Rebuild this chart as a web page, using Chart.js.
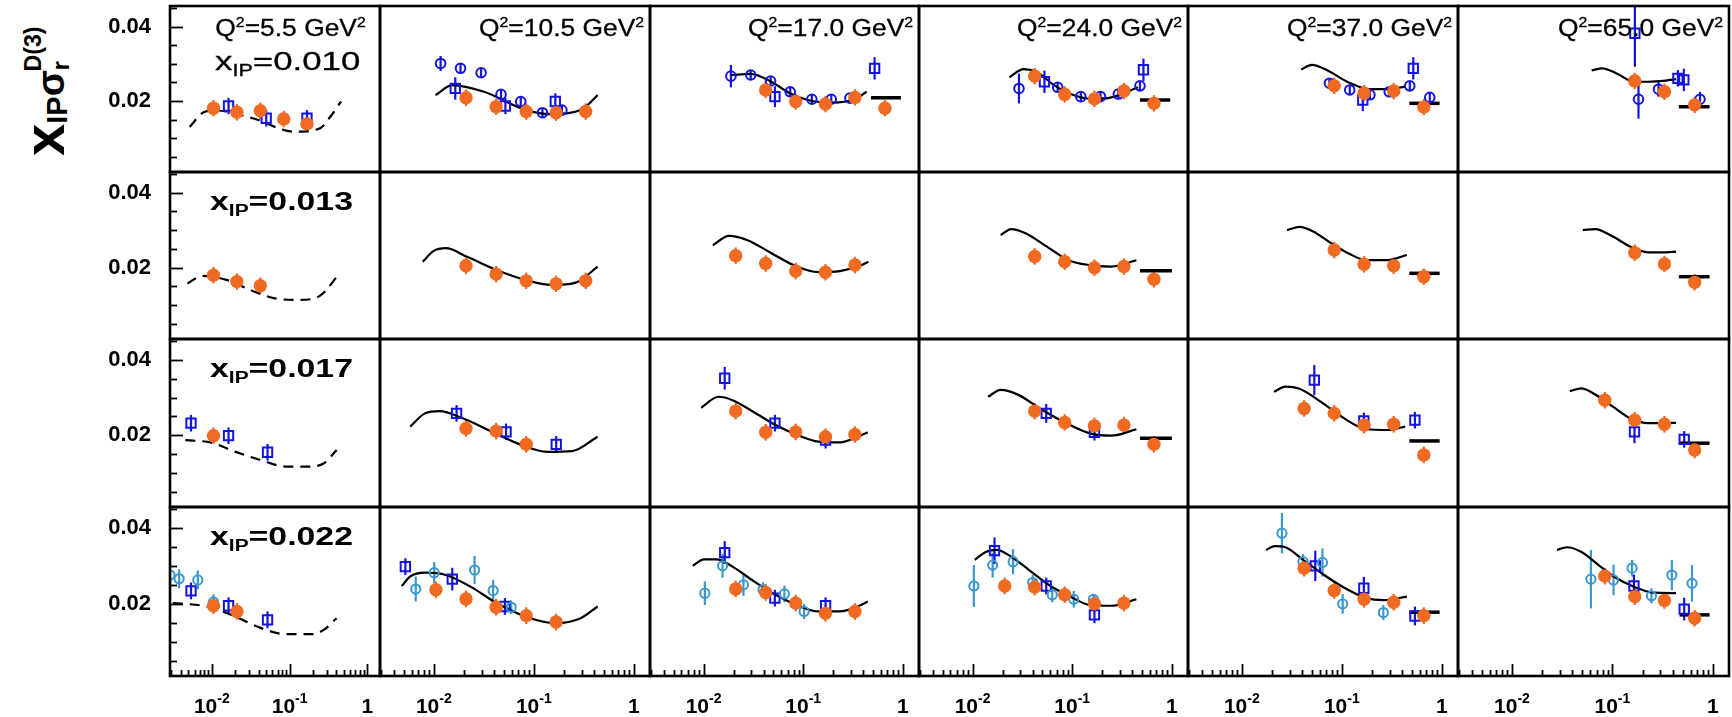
<!DOCTYPE html>
<html lang="en">
<head>
<meta charset="UTF-8">
<title>Reduced diffractive cross section</title>
<script src="https://cdn.jsdelivr.net/npm/chart.js"></script>
<style>
  body { margin: 0; background: #fff; }
  #page { position: relative; width: 1732px; height: 717px; overflow: hidden; font-family: 'Liberation Sans', Arial, sans-serif; color: #000; }
  #page canvas { position: absolute; }
  .lbl { position: absolute; white-space: nowrap; line-height: 1; }
  .q2 { font-size: 24px; transform: scaleX(1.1); transform-origin: right top; -webkit-text-stroke: 0.3px #000; }
  .xp { font-size: 26px; font-weight: bold; transform: scaleX(1.3); transform-origin: left top; }
  .xp.first { font-size: 26px; font-weight: normal; transform: scaleX(1.34); -webkit-text-stroke: 0.3px #000; }
  .lbl sup { font-size: 60%; position: relative; top: -0.6em; vertical-align: baseline; }
  .lbl sub { font-size: 62%; position: relative; top: 0.35em; vertical-align: baseline; }
  #ytitle { position: absolute; left: 15px; top: 156px; font-size: 58px; font-weight: bold; line-height: 1; white-space: nowrap; transform-origin: 0 0; transform: rotate(-90deg); }
  #ytitle .ip { font-size: 50%; position: relative; top: 0.12em; }
  #ytitle .sg { font-size: 66%; }
  #ytitle .r { font-size: 40%; position: relative; top: 0.2em; }
  #ytitle .d3 { font-size: 40%; position: relative; top: -1.0em; margin-left: -0.45em; }
</style>
</head>
<body>
<div id="page">
  <div id="ytitle">x<span class="ip">IP</span><span class="sg">σ</span><span class="r">r</span><span class="d3">D(3)</span></div>
</div>
<script>
// panel labels and axis ticks
const q2Values = ['5.5', '10.5', '17.0', '24.0', '37.0', '65.0'];
const xpomValues = ['0.010', '0.013', '0.017', '0.022'];
const xTickValues = [0.01, 0.1, 1];
const yTickValues = [0.02, 0.04];

// points per panel [row = x_IP][col = Q2] : [beta, x_IP*sigma, error]
const orangeDots = [
  [
    [[0.0105,0.0181],[0.021,0.0170],[0.042,0.0174],[0.084,0.0152],[0.167,0.0139]],
    [[0.021,0.0209],[0.042,0.0185],[0.084,0.0172],[0.167,0.0169],[0.33,0.0172]],
    [[0.042,0.0230],[0.084,0.0199],[0.167,0.0192],[0.33,0.0210],[0.66,0.0181]],
    [[0.042,0.0267],[0.084,0.0218],[0.167,0.0206],[0.33,0.0227],[0.66,0.0194]],
    [[0.084,0.0241],[0.167,0.0221],[0.33,0.0227],[0.66,0.0184]],
    [[0.167,0.0254],[0.33,0.0225],[0.66,0.0190]]
  ],
  [
    [[0.0105,0.0180],[0.021,0.0163],[0.042,0.0152]],
    [[0.021,0.0205],[0.042,0.0183],[0.084,0.0165],[0.167,0.0157],[0.33,0.0165]],
    [[0.021,0.0232],[0.042,0.0211],[0.084,0.0191],[0.167,0.0188],[0.33,0.0207]],
    [[0.042,0.0230],[0.084,0.0216],[0.167,0.0200],[0.33,0.0203],[0.66,0.0169]],
    [[0.084,0.0247],[0.167,0.0209],[0.33,0.0205],[0.66,0.0176]],
    [[0.167,0.0240],[0.33,0.0210],[0.66,0.0161]]
  ],
  [
    [[0.0105,0.0199]],
    [[0.021,0.0218],[0.042,0.0211],[0.084,0.0176]],
    [[0.021,0.0264],[0.042,0.0208],[0.084,0.0209],[0.167,0.0196],[0.33,0.0202]],
    [[0.042,0.0264],[0.084,0.0234],[0.167,0.0225],[0.33,0.0227],[0.66,0.0176]],
    [[0.042,0.0271],[0.084,0.0258],[0.167,0.0227],[0.33,0.0229],[0.66,0.0148]],
    [[0.084,0.0293],[0.167,0.0240],[0.33,0.0229],[0.66,0.0161]]
  ],
  [
    [[0.0105,0.0195],[0.021,0.0180]],
    [[0.0105,0.0237],[0.021,0.0213],[0.042,0.0191],[0.084,0.0169],[0.167,0.0152]],
    [[0.021,0.0239],[0.042,0.0230],[0.084,0.0202],[0.167,0.0175],[0.33,0.0180]],
    [[0.021,0.0247],[0.042,0.0244],[0.084,0.0224],[0.167,0.0200],[0.33,0.0202]],
    [[0.042,0.0294],[0.084,0.0235],[0.167,0.0212],[0.33,0.0204],[0.66,0.0169]],
    [[0.084,0.0273],[0.167,0.0219],[0.33,0.0209],[0.66,0.0162]]
  ]
];

const blueSquares = [
  [
    [[0.0164,0.0187],[0.050,0.0154],[0.167,0.0154]],
    [[0.0164,0.0234,0.003],[0.052,0.0187],[0.164,0.0199]],
    [[0.052,0.0212,0.0028],[0.52,0.0288,0.003]],
    [[0.0526,0.0252,0.003],[0.518,0.0284,0.003]],
    [[0.162,0.0203,0.003],[0.518,0.0288,0.003]],
    [[0.1675,0.0382,0.009],[0.449,0.0261],[0.515,0.0257,0.003]]
  ],
  [[], [], [], [], [], []],
  [
    [[0.0054,0.0232],[0.0164,0.0199],[0.052,0.0155]],
    [[0.0169,0.0258],[0.0528,0.0209],[0.1675,0.0176]],
    [[0.0163,0.0351,0.003],[0.052,0.0232],[0.1675,0.0187]],
    [[0.0548,0.0258,0.0025],[0.167,0.0208]],
    [[0.0531,0.0346,0.004],[0.166,0.0238],[0.538,0.0240]],
    [[0.166,0.0209,0.003],[0.519,0.0189]]
  ],
  [
    [[0.0054,0.0234],[0.0164,0.0195],[0.052,0.0158]],
    [[0.0052,0.0298],[0.0153,0.0265,0.003],[0.0514,0.0193]],
    [[0.0163,0.0335,0.003],[0.0519,0.0215],[0.1675,0.0195]],
    [[0.0166,0.0340,0.0035],[0.0548,0.0247],[0.167,0.0171]],
    [[0.0543,0.0300,0.004],[0.166,0.0241,0.003],[0.538,0.0168,0.0025]],
    [[0.164,0.0247,0.003],[0.519,0.0186,0.003]]
  ]
];

const blueCircles = [
  [
    [],
    [[0.0117,0.0301,0.002],[0.0185,0.0288],[0.0297,0.0276],[0.047,0.0218],[0.074,0.0199],[0.122,0.0169],[0.191,0.0176]],
    [[0.0188,0.0267,0.003],[0.0297,0.0270],[0.047,0.0254],[0.074,0.0225],[0.122,0.0205],[0.191,0.0205],[0.294,0.0208]],
    [[0.0292,0.0234,0.004],[0.0714,0.0237],[0.122,0.0212],[0.192,0.0212],[0.290,0.0219],[0.478,0.0241]],
    [[0.0752,0.0248],[0.120,0.0230],[0.191,0.0217],[0.298,0.0225],[0.478,0.0241],[0.757,0.0210]],
    [[0.182,0.0205,0.0052],[0.288,0.0232,0.002],[0.746,0.0205,0.002]]
  ],
  [[], [], [], [], [], []],
  [[], [], [], [], [], []],
  [[], [], [], [], [], []]
];

const cyanCircles = [
  [[], [], [], [], [], []],
  [[], [], [], [], [], []],
  [[], [], [], [], [], []],
  [
    [[0.0029,0.0276,0.0066],[0.0038,0.0266,0.0025],[0.0066,0.0263,0.0025],[0.0105,0.0205,0.002]],
    [[0.0066,0.0239,0.0033],[0.0101,0.0282,0.0028],[0.0256,0.0289,0.0037],[0.0392,0.0235,0.0028],[0.0594,0.0191,0.0018]],
    [[0.0103,0.0228,0.0031],[0.0155,0.0300,0.0031],[0.0251,0.0250,0.0029],[0.0395,0.0237,0.002],[0.0647,0.0226,0.0022],[0.102,0.0180,0.002]],
    [[0.0103,0.0247,0.0055],[0.0159,0.0302,0.0033],[0.0255,0.0311,0.0033],[0.0401,0.0256,0.002],[0.063,0.0224,0.002],[0.1035,0.0212,0.0022],[0.163,0.0212,0.0013]],
    [[0.0252,0.0386,0.0053],[0.0409,0.0311,0.002],[0.064,0.0309,0.0037],[0.102,0.0200,0.0026],[0.26,0.0177,0.002]],
    [[0.0611,0.0265,0.0077],[0.1026,0.0263,0.004],[0.157,0.0294,0.0022],[0.245,0.0221,0.002],[0.391,0.0276,0.004],[0.621,0.0254,0.0048]]
  ]
];

// fit curves [beta, value]; first column is the dashed extrapolation
const fitCurves = [
  [
    [[0.00519,0.0131],[0.00796,0.0171],[0.0110,0.0175],[0.0335,0.0154],[0.116,0.0118],[0.245,0.0127],[0.333,0.0158],[0.457,0.0199]],
    [[0.0104,0.0216],[0.0153,0.0243],[0.0317,0.0225],[0.0838,0.0176],[0.150,0.0165],[0.295,0.0176],[0.435,0.0216]],
    [[0.0188,0.0270],[0.0296,0.0273],[0.0478,0.0252],[0.0735,0.0221],[0.111,0.0203],[0.197,0.0196],[0.324,0.0205],[0.434,0.0225]],
    [[0.0234,0.0264],[0.0326,0.0286],[0.0436,0.0279],[0.0656,0.0243],[0.0993,0.0218],[0.163,0.0206],[0.247,0.0210],[0.457,0.0237]],
    [[0.0393,0.0285],[0.0501,0.0297],[0.0721,0.0282],[0.117,0.0250],[0.191,0.0232],[0.286,0.0232],[0.430,0.0239]],
    [[0.0621,0.0282],[0.0791,0.0288],[0.109,0.0275],[0.164,0.0252],[0.226,0.0252],[0.339,0.0255],[0.431,0.0259]]
  ],
  [
    [[0.00486,0.0158],[0.00752,0.0178],[0.0158,0.0167],[0.0334,0.0138],[0.0622,0.0119],[0.131,0.0114],[0.244,0.0125],[0.428,0.0182]],
    [[0.00776,0.0216],[0.00989,0.0244],[0.0132,0.0252],[0.0215,0.0229],[0.0424,0.0194],[0.0834,0.0167],[0.149,0.0154],[0.267,0.0161],[0.434,0.0203]],
    [[0.0124,0.0260],[0.0180,0.0285],[0.0272,0.0274],[0.0485,0.0238],[0.0798,0.0207],[0.142,0.0188],[0.233,0.0191],[0.352,0.0203],[0.451,0.0216]],
    [[0.0191,0.0287],[0.0244,0.0303],[0.0340,0.0292],[0.0557,0.0256],[0.0916,0.0220],[0.150,0.0207],[0.247,0.0203],[0.440,0.0220]],
    [[0.0284,0.0300],[0.0378,0.0309],[0.0522,0.0296],[0.0783,0.0265],[0.117,0.0238],[0.176,0.0220],[0.286,0.0220],[0.447,0.0234]],
    [[0.0507,0.0300],[0.0675,0.0303],[0.101,0.0283],[0.151,0.0256],[0.226,0.0241],[0.339,0.0241],[0.431,0.0243]]
  ],
  [
    [[0.00457,0.0187],[0.00664,0.0185],[0.00962,0.0181],[0.0203,0.0156],[0.0430,0.0134],[0.0904,0.0117],[0.169,0.0117],[0.277,0.0126],[0.402,0.0161]],
    [[0.00581,0.0223],[0.00815,0.0258],[0.0114,0.0264],[0.0195,0.0245],[0.0385,0.0209],[0.0757,0.0174],[0.136,0.0156],[0.242,0.0158],[0.434,0.0196]],
    [[0.00946,0.0273],[0.0141,0.0302],[0.0195,0.0293],[0.0321,0.0261],[0.0527,0.0227],[0.0865,0.0201],[0.142,0.0183],[0.233,0.0181],[0.352,0.0196],[0.444,0.0208]],
    [[0.0143,0.0302],[0.0191,0.0320],[0.0288,0.0307],[0.0473,0.0271],[0.0843,0.0234],[0.150,0.0205],[0.247,0.0199],[0.440,0.0216]],
    [[0.0210,0.0315],[0.0273,0.0329],[0.0378,0.0323],[0.0614,0.0289],[0.0998,0.0249],[0.176,0.0216],[0.286,0.0214],[0.430,0.0223]],
    [[0.0377,0.0317],[0.0488,0.0324],[0.0675,0.0308],[0.101,0.0276],[0.151,0.0245],[0.226,0.0232],[0.339,0.0232],[0.431,0.0233]]
  ],
  [
    [[0.00315,0.0202],[0.00457,0.0200],[0.00851,0.0193],[0.0179,0.0171],[0.0430,0.0136],[0.0904,0.0120],[0.191,0.0120],[0.277,0.0132],[0.402,0.0162]],
    [[0.00479,0.0247],[0.00581,0.0272],[0.00815,0.0282],[0.0132,0.0276],[0.0237,0.0244],[0.0424,0.0202],[0.0834,0.0166],[0.164,0.0149],[0.294,0.0162],[0.434,0.0193]],
    [[0.00778,0.0300],[0.0101,0.0317],[0.0135,0.0317],[0.0195,0.0298],[0.0321,0.0259],[0.0527,0.0224],[0.0865,0.0197],[0.142,0.0180],[0.233,0.0180],[0.352,0.0193],[0.444,0.0206]],
    [[0.0105,0.0316],[0.0137,0.0337],[0.0175,0.0342],[0.0244,0.0324],[0.0369,0.0289],[0.0605,0.0247],[0.0993,0.0217],[0.150,0.0197],[0.247,0.0195],[0.440,0.0212]],
    [[0.0175,0.0342],[0.0214,0.0352],[0.0273,0.0349],[0.0409,0.0316],[0.0665,0.0276],[0.108,0.0241],[0.176,0.0215],[0.264,0.0210],[0.447,0.0219]],
    [[0.0281,0.0342],[0.0353,0.0349],[0.0488,0.0337],[0.0729,0.0302],[0.109,0.0268],[0.164,0.0245],[0.245,0.0230],[0.431,0.0228]]
  ]
];

// short horizontal fit segments at high beta: [beta from, beta to, value]
const fitBars = [
  [null, null, [0.478,0.955,0.0209], [0.478,0.962,0.0203], [0.473,0.95,0.0194], [0.459,0.929,0.0185]],
  [null, null, null, [0.478,1.0,0.0192], [0.473,0.95,0.0185], [0.459,0.929,0.0176]],
  [null, null, null, [0.478,1.0,0.0192], [0.473,0.95,0.0185], [0.459,0.929,0.0179]],
  [null, null, null, null, [0.473,0.95,0.0178], [0.467,0.929,0.0171]]
];

const colEdges = [170, 380, 650, 919, 1188, 1458, 1729];
const rowEdges = [6, 172, 339, 507, 676];
const ORANGE = '#f06a22';
const BLUE = '#1414e0';
const CYAN = '#3a98cf';
const FONT = 'Liberation Sans';
const page = document.getElementById('page');

const errorBars = {
  id: 'errorBars',
  beforeDatasetsDraw(chart) {
    const { ctx, chartArea: a, scales: { y } } = chart;
    ctx.save();
    ctx.beginPath();
    ctx.rect(a.left, a.top, a.width, a.height);
    ctx.clip();
    chart.data.datasets.forEach((ds, i) => {
      if (!ds.errors) return;
      ctx.strokeStyle = ds.errorColor;
      ctx.lineWidth = 2.2;
      chart.getDatasetMeta(i).data.forEach((pt, j) => {
        const v = ds.data[j].y, e = ds.errors[j];
        ctx.beginPath();
        ctx.moveTo(pt.x, y.getPixelForValue(v - e));
        ctx.lineTo(pt.x, y.getPixelForValue(v + e));
        ctx.stroke();
      });
    });
    ctx.restore();
  }
};

// frame, inward ticks and x labels, like the original ROOT pads
const frame = {
  id: 'frame',
  afterDraw(chart, args, opts) {
    const { ctx, chartArea: a, scales: { x, y } } = chart;
    ctx.save();
    ctx.strokeStyle = '#000';
    ctx.lineWidth = 1.8;
    if (opts.col === 0) {
      for (let v = 0.005; v < 0.0455; v += 0.005) {
        const py = Math.round(y.getPixelForValue(v)) + 0.5;
        const major = yTickValues.some(t => Math.abs(t - v) < 1e-6);
        ctx.beginPath();
        ctx.moveTo(a.left, py);
        ctx.lineTo(a.left + (major ? 13 : 7), py);
        ctx.stroke();
      }
    }
    if (opts.row === 3) {
      for (let d = -3; d <= 0; d++) {
        for (let k = 1; k <= 9; k++) {
          const v = k * Math.pow(10, d);
          if (v < x.min || v > x.max) continue;
          const px = Math.round(x.getPixelForValue(v)) + 0.5;
          ctx.beginPath();
          ctx.moveTo(px, a.bottom);
          ctx.lineTo(px, a.bottom - (k === 1 ? 12 : 6));
          ctx.stroke();
        }
      }
      ctx.fillStyle = '#000';
      ctx.textBaseline = 'alphabetic';
      xTickValues.forEach(v => {
        const px = x.getPixelForValue(v);
        const exp = Math.round(Math.log10(v));
        const base = exp === 0 ? '1' : '10';
        const sup = exp === 0 ? '' : String(exp);
        ctx.font = `bold 21px "${FONT}"`;
        const wb = ctx.measureText(base).width;
        ctx.font = `bold 14px "${FONT}"`;
        const ws = sup ? ctx.measureText(sup).width : 0;
        const x0 = px - (wb + ws) / 2;
        ctx.font = `bold 21px "${FONT}"`;
        ctx.fillText(base, x0, a.bottom + 37);
        if (sup) {
          ctx.font = `bold 14px "${FONT}"`;
          ctx.fillText(sup, x0 + wb, a.bottom + 27);
        }
      });
    }
    ctx.lineWidth = 2.6;
    ctx.strokeRect(a.left, a.top, a.width, a.height);
    ctx.restore();
  }
};

const pts = list => list.map(p => ({ x: p[0], y: p[1] }));
const errs = (list, d) => list.map(p => p[2] !== undefined ? p[2] : d);

function makePanel(r, c) {
  const pad = 3;
  const left = c === 0 ? 68 : colEdges[c] - pad;
  const top = rowEdges[r] - pad;
  const right = colEdges[c + 1] + pad;
  const bottom = rowEdges[r + 1] + pad + (r === 3 ? 40 : 0);
  const canvas = document.createElement('canvas');
  canvas.width = right - left;
  canvas.height = bottom - top;
  canvas.style.left = left + 'px';
  canvas.style.top = top + 'px';
  page.appendChild(canvas);

  const datasets = [
    { data: pts(orangeDots[r][c]), errors: errs(orangeDots[r][c], 0.0022), errorColor: ORANGE,
      pointStyle: 'circle', pointRadius: 6.7, pointBackgroundColor: ORANGE, pointBorderColor: ORANGE, pointBorderWidth: 0, clip: 0 },
    { data: pts(cyanCircles[r][c]), errors: errs(cyanCircles[r][c], 0.002), errorColor: CYAN,
      pointStyle: 'circle', pointRadius: 4.6, pointBackgroundColor: 'rgba(0,0,0,0)', pointBorderColor: CYAN, pointBorderWidth: 2, clip: 0 },
    { data: pts(blueCircles[r][c]), errors: errs(blueCircles[r][c], 0.0012), errorColor: BLUE,
      pointStyle: 'circle', pointRadius: 4.8, pointBackgroundColor: 'rgba(0,0,0,0)', pointBorderColor: BLUE, pointBorderWidth: 2, clip: 0 },
    { data: pts(blueSquares[r][c]), errors: errs(blueSquares[r][c], 0.0022), errorColor: BLUE,
      pointStyle: 'rect', pointRadius: 6.6, pointBackgroundColor: 'rgba(0,0,0,0)', pointBorderColor: BLUE, pointBorderWidth: 2, clip: 0 }
  ];
  const bar = fitBars[r][c];
  if (bar) {
    datasets.push({ data: [{ x: bar[0], y: bar[2] }, { x: bar[1], y: bar[2] }], showLine: true,
      pointRadius: 0, borderColor: '#000', borderWidth: 3.5, clip: 0 });
  }
  datasets.push({ data: pts(fitCurves[r][c]), showLine: true, pointRadius: 0, borderColor: '#000',
    borderWidth: 2.2, borderDash: c === 0 ? [10, 7] : [], cubicInterpolationMode: 'monotone', clip: 0 });

  const yScale = c === 0 ? {
    type: 'linear', min: 0.001, max: 0.0455, position: 'left',
    grid: { display: false }, border: { display: false },
    afterBuildTicks: s => { s.ticks = yTickValues.map(v => ({ value: v })); },
    afterFit: s => { s.width = colEdges[0] - left; s.paddingTop = 0; s.paddingBottom = 0; },
    ticks: { callback: v => v.toFixed(2), color: '#000', padding: 11,
      font: { family: FONT, size: 22, weight: 'bold' } }
  } : { type: 'linear', min: 0.001, max: 0.0455, display: false };

  new Chart(canvas, {
    type: 'scatter',
    data: { datasets },
    options: {
      responsive: false,
      animation: false,
      devicePixelRatio: 1,
      events: [],
      layout: { autoPadding: false, padding: { left: c === 0 ? 0 : pad, right: pad, top: pad, bottom: pad + (r === 3 ? 40 : 0) } },
      plugins: { legend: { display: false }, tooltip: { enabled: false }, frame: { row: r, col: c } },
      scales: {
        x: { type: 'logarithmic', min: 0.0029, max: 1.45, display: false },
        y: yScale
      }
    },
    plugins: [errorBars, frame]
  });
}

for (let r = 0; r < 4; r++) {
  for (let c = 0; c < 6; c++) makePanel(r, c);
}

q2Values.forEach((q, c) => {
  const d = document.createElement('div');
  d.className = 'lbl q2';
  d.innerHTML = `Q<sup>2</sup>=${q} GeV<sup>2</sup>`;
  d.style.right = (1732 - colEdges[c + 1] + (c === 0 ? 14 : 6)) + 'px';
  d.style.top = '16px';
  page.appendChild(d);
});

xpomValues.forEach((v, r) => {
  const d = document.createElement('div');
  d.className = r === 0 ? 'lbl xp first' : 'lbl xp';
  d.innerHTML = `x<sub>IP</sub>=${v}`;
  d.style.left = r === 0 ? '215px' : '210px';
  d.style.top = (r === 0 ? 48 : rowEdges[r] + 16) + 'px';
  page.appendChild(d);
});
</script>
</body>
</html>
